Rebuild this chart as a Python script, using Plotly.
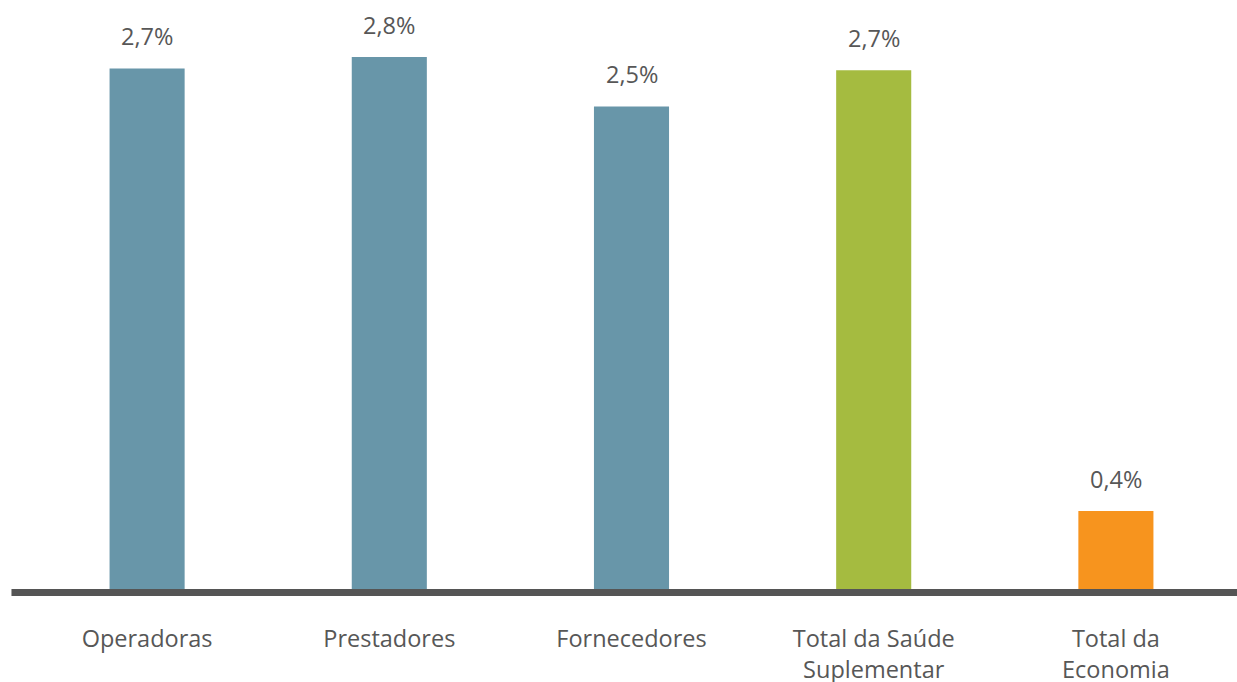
import plotly.graph_objects as go

categories = ["Operadoras", "Prestadores", "Fornecedores", "Total da Saúde<br>Suplementar", "Total da<br>Economia"]
values = [2.74, 2.80, 2.54, 2.73, 0.41]
colors = ["#6896a9", "#6896a9", "#6896a9", "#a5bb40", "#f7941e"]

fig = go.Figure()
fig.add_trace(go.Bar(x=categories, y=values, marker=dict(color=colors, line=dict(width=0)),
                     width=0.31, hoverinfo="skip"))

for c, v in zip(categories, values):
    fig.add_annotation(x=c, y=v, text=f"{v:.1f}".replace(".", ",") + "%", showarrow=False,
                       yanchor="bottom", yshift=14, font=dict(size=23.5, color="#575757", family="Open Sans"))

fig.add_shape(type="line", xref="paper", yref="paper", x0=-0.012, x1=1.01, y0=-0.006, y1=-0.006,
              line=dict(color="#555555", width=7), layer="above")

fig.update_layout(
    width=1237, height=682,
    margin=dict(l=26, r=0, t=0, b=93, autoexpand=False),
    plot_bgcolor="white", paper_bgcolor="white",
    showlegend=False,
    font=dict(family="Open Sans", size=23.5, color="#575757"),
    xaxis=dict(range=[-0.5, 4.5], showgrid=False, zeroline=False, showline=False,
               ticks="outside", ticklen=29, tickcolor="rgba(0,0,0,0)", fixedrange=True,
               tickfont=dict(size=23.5, color="#575757", family="Open Sans")),
    yaxis=dict(range=[0, 3.1], visible=False, fixedrange=True),
)

fig.write_html("out.html")
